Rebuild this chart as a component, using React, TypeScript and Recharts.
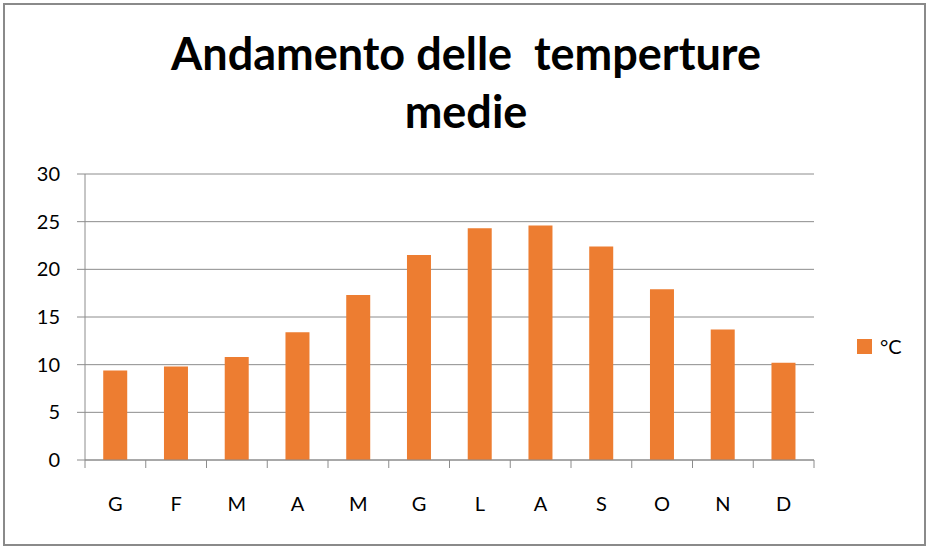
import { Bar, BarChart, CartesianGrid, XAxis, YAxis } from "recharts";

const months = ["G", "F", "M", "A", "M", "G", "L", "A", "S", "O", "N", "D"];
const temperatures = [9.4, 9.8, 10.8, 13.4, 17.3, 21.5, 24.3, 24.6, 22.4, 17.9, 13.7, 10.2];
const yTicks = [0, 5, 10, 15, 20, 25, 30];
const seriesName = "°C";

const W = 929;
const H = 547;
const PLOT_LEFT = 85;
const PLOT_RIGHT = 814;
const GRID = "#8c8c8c";
const BAR = "#ed7d31";
const FONT = "Lato, 'Open Sans', sans-serif";

const data = months.map((m, i) => ({ key: i, month: m, value: temperatures[i] }));
const halfBand = (PLOT_RIGHT - PLOT_LEFT) / months.length / 2;

function MonthTick(props: any) {
  const { x, y, payload, index } = props;
  const last = index === months.length - 1;
  return (
    <g>
      <line x1={x - halfBand} x2={x - halfBand} y1={y} y2={y + 8} stroke={GRID} />
      {last && <line x1={x + halfBand} x2={x + halfBand} y1={y} y2={y + 8} stroke={GRID} />}
      <text x={x} y={y + 51} textAnchor="middle" fontSize={20} fill="#000" fontFamily={FONT}>
        {months[payload.value]}
      </text>
    </g>
  );
}

export default function App() {
  return (
    <div style={{ position: "absolute", left: 0, top: 0, width: W, height: H, background: "#fff", fontFamily: FONT }}>
      <div
        style={{
          position: "absolute",
          left: 3,
          top: 3,
          width: W - 6,
          height: H - 4,
          border: "2px solid #8a8a8a",
          boxSizing: "border-box",
        }}
      />
      <div
        style={{
          position: "absolute",
          left: 0,
          top: 24,
          width: 932,
          textAlign: "center",
          fontWeight: 700,
          fontSize: 45,
          lineHeight: "58px",
          whiteSpace: "pre",
          color: "#000",
        }}
      >
        {"Andamento delle  temperture\nmedie"}
      </div>
      <BarChart
        width={W}
        height={H}
        data={data}
        margin={{ top: 174, right: W - PLOT_RIGHT, bottom: 27, left: 0 }}
        barCategoryGap="30%"
        style={{ position: "absolute", left: 0, top: 0 }}
      >
        <CartesianGrid vertical={false} stroke={GRID} />
        <XAxis
          dataKey="key"
          height={60}
          axisLine={{ stroke: GRID }}
          tickLine={false}
          tickSize={0}
          tickMargin={0}
          interval={0}
          tick={<MonthTick />}
        />
        <YAxis
          width={PLOT_LEFT}
          domain={[0, 30]}
          ticks={yTicks}
          axisLine={{ stroke: GRID }}
          tickLine={{ stroke: GRID }}
          tickSize={8}
          tickMargin={17}
          tick={{ fontSize: 20, fill: "#000", fontFamily: FONT }}
        />
        <Bar dataKey="value" name={seriesName} fill={BAR} isAnimationActive={false} />
      </BarChart>
      <div style={{ position: "absolute", left: 857, top: 334, display: "flex", alignItems: "center", gap: 8 }}>
        <div style={{ width: 15, height: 15, background: BAR }} />
        <span style={{ fontSize: 20, color: "#000" }}>{seriesName}</span>
      </div>
    </div>
  );
}
